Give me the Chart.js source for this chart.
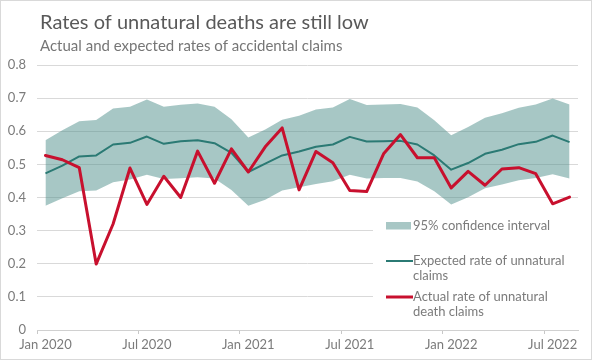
<!DOCTYPE html>
<html>
<head>
<meta charset="utf-8">
<script src="https://cdn.jsdelivr.net/npm/chart.js@4.4.0/dist/chart.umd.min.js"></script>
<style>
  html, body { margin: 0; padding: 0; background: #ffffff; }
  #wrap { position: relative; width: 593px; height: 361px; }
</style>
</head>
<body>
<div id="wrap"><canvas id="c" width="593" height="361"></canvas></div>
<script>
const months = [
  'Jan 2020','Feb 2020','Mar 2020','Apr 2020','May 2020','Jun 2020','Jul 2020','Aug 2020','Sep 2020','Oct 2020','Nov 2020','Dec 2020',
  'Jan 2021','Feb 2021','Mar 2021','Apr 2021','May 2021','Jun 2021','Jul 2021','Aug 2021','Sep 2021','Oct 2021','Nov 2021','Dec 2021',
  'Jan 2022','Feb 2022','Mar 2022','Apr 2022','May 2022','Jun 2022','Jul 2022','Aug 2022'
];
const actualRate = [
  0.527, 0.514, 0.490, 0.199, 0.320, 0.489, 0.379, 0.464, 0.400, 0.540, 0.443, 0.547,
  0.477, 0.553, 0.610, 0.423, 0.539, 0.505, 0.421, 0.418, 0.532, 0.590, 0.520, 0.520,
  0.429, 0.479, 0.437, 0.486, 0.490, 0.472, 0.381, 0.401
];
const expectedRate = [
  0.473, 0.496, 0.524, 0.527, 0.560, 0.565, 0.584, 0.562, 0.570, 0.573, 0.564, 0.535,
  0.477, 0.502, 0.527, 0.539, 0.553, 0.560, 0.583, 0.569, 0.570, 0.571, 0.560, 0.527,
  0.484, 0.504, 0.532, 0.544, 0.561, 0.568, 0.587, 0.567
];
const upperCI = [
  0.573, 0.603, 0.630, 0.634, 0.669, 0.674, 0.696, 0.674, 0.680, 0.684, 0.674, 0.636,
  0.581, 0.605, 0.635, 0.647, 0.666, 0.672, 0.697, 0.679, 0.681, 0.682, 0.672, 0.633,
  0.588, 0.613, 0.641, 0.654, 0.671, 0.681, 0.699, 0.681
];
const lowerCI = [
  0.375, 0.398, 0.419, 0.421, 0.446, 0.454, 0.469, 0.456, 0.458, 0.461, 0.457, 0.423,
  0.375, 0.393, 0.421, 0.431, 0.441, 0.449, 0.469, 0.457, 0.459, 0.459, 0.448, 0.419,
  0.379, 0.401, 0.428, 0.439, 0.452, 0.459, 0.470, 0.457
];
const shownTickMonths = ['Jan', 'Jul'];
const titleText = 'Rates of unnatural deaths are still low';
const subtitleText = 'Actual and expected rates of accidental claims';
const legendCI = '95% confidence interval';
const legendExpected = ['Expected rate of unnatural', 'claims'];
const legendActual = ['Actual rate of unnatural', 'death claims'];

const FONT = 'Lato, "Open Sans", sans-serif';
const TEAL = '#2b7a74';
const RED = '#c8102e';
const BAND = 'rgba(80,143,139,0.5)';
const BAND_SOLID = '#a8c7c5';
const GRID = '#d9d9d9';
const TXT = '#7b7b7b';

const decorPlugin = {
  id: 'decor',
  beforeDatasetsDraw(chart) {
    const ctx = chart.ctx;
    const a = chart.chartArea;
    ctx.save();
    ctx.fillStyle = '#ffffff';
    ctx.fillRect(373, 206, a.right - 373 + 4, 120);
    ctx.restore();
  },
  afterDraw(chart) {
    const ctx = chart.ctx;
    ctx.save();
    ctx.strokeStyle = '#d9d9d9';
    ctx.lineWidth = 1;
    ctx.strokeRect(0.5, 0.5, 591, 359);
    ctx.fillStyle = '#595959';
    ctx.textBaseline = 'alphabetic';
    ctx.textAlign = 'left';
    ctx.font = '20px ' + FONT;
    ctx.fillText(titleText, 40, 29);
    ctx.fillStyle = '#767676';
    ctx.font = '15px ' + FONT;
    ctx.fillText(subtitleText, 40, 51);
    const lx = 386, tx = 413;
    ctx.fillStyle = BAND_SOLID;
    ctx.fillRect(lx, 222, 25, 7.5);
    ctx.lineCap = 'butt';
    ctx.strokeStyle = TEAL; ctx.lineWidth = 2;
    ctx.beginPath(); ctx.moveTo(lx, 261); ctx.lineTo(tx, 261); ctx.stroke();
    ctx.strokeStyle = RED; ctx.lineWidth = 3;
    ctx.beginPath(); ctx.moveTo(lx, 297); ctx.lineTo(tx, 297); ctx.stroke();
    ctx.fillStyle = TXT;
    ctx.font = '13px ' + FONT;
    ctx.textBaseline = 'middle';
    ctx.fillText(legendCI, tx, 225.5);
    ctx.fillText(legendExpected[0], tx, 261);
    ctx.fillText(legendExpected[1], tx, 275.5);
    ctx.fillText(legendActual[0], tx, 297);
    ctx.fillText(legendActual[1], tx, 311.5);
    ctx.restore();
  }
};

new Chart(document.getElementById('c'), {
  type: 'line',
  data: {
    labels: months,
    datasets: [
      { label: 'Actual rate of unnatural death claims', data: actualRate, borderColor: RED, borderWidth: 3,
        pointRadius: 0, tension: 0, fill: false, borderJoinStyle: 'round', borderCapStyle: 'round' },
      { label: 'Expected rate of unnatural claims', data: expectedRate, borderColor: TEAL, borderWidth: 2,
        pointRadius: 0, tension: 0, fill: false, borderJoinStyle: 'round' },
      { label: '95% upper', data: upperCI, borderWidth: 0, borderColor: 'rgba(0,0,0,0)', backgroundColor: BAND,
        pointRadius: 0, tension: 0, fill: '+1' },
      { label: '95% lower', data: lowerCI, borderWidth: 0, borderColor: 'rgba(0,0,0,0)',
        pointRadius: 0, tension: 0, fill: false }
    ]
  },
  options: {
    responsive: false,
    animation: false,
    events: [],
    layout: { padding: { top: 65, right: 15, left: 0, bottom: 0 } },
    plugins: { legend: { display: false }, tooltip: { enabled: false }, title: { display: false } },
    scales: {
      x: {
        type: 'category',
        offset: true,
        grid: {
          offset: true,
          drawOnChartArea: false,
          drawTicks: true,
          tickLength: 4,
          lineWidth: 1,
          color: (c) => {
            const lbl = months[c.index];
            return (lbl && shownTickMonths.includes(lbl.slice(0, 3))) ? '#c8c8c8' : 'rgba(0,0,0,0)';
          }
        },
        border: { display: true, color: '#d0d0d0', width: 1 },
        ticks: {
          autoSkip: false,
          maxRotation: 0,
          minRotation: 0,
          padding: 3,
          color: TXT,
          font: { family: FONT, size: 13 },
          callback: function (value, index) {
            const lbl = months[index];
            return shownTickMonths.includes(lbl.slice(0, 3)) ? lbl : '';
          }
        },
        afterFit: (s) => { s.height = 31; }
      },
      y: {
        min: 0,
        max: 0.8,
        grid: { color: GRID, drawTicks: false, lineWidth: 1 },
        border: { display: false },
        ticks: {
          stepSize: 0.1,
          padding: 11,
          color: TXT,
          font: { family: FONT, size: 13 }
        },
        afterFit: (s) => { s.width = 37; }
      }
    }
  },
  plugins: [decorPlugin]
});
</script>
</body>
</html>
